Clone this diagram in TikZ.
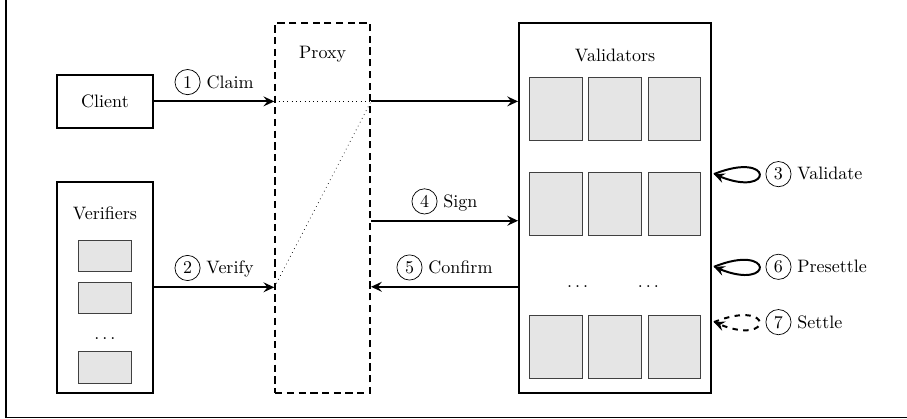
\documentclass[tikz,border=0pt]{standalone}
\usetikzlibrary{arrows.meta}

\newcommand{\circnum}[1]{\tikz[baseline=(num.base)]\node[draw, solid, thin, circle, inner sep=0pt, minimum size=14pt] (num) {#1};}

\tikzset{
	>={Stealth[length=6pt, width=5.5pt, inset=2.2pt]},
	box/.style={draw, line width=1.1pt, minimum width=1.87cm, inner sep=0pt},
	member/.style={draw=black!75, fill=black!10, line width=0.55pt, minimum width=1.03cm, minimum height=0.62cm, inner sep=0pt},
	flow/.style={->, line width=1.1pt},
	frame/.style={line width=0.9pt},
}

\begin{document}
\begin{tikzpicture}
		\useasboundingbox (0,0) rectangle (17.71,-8.18);
		\draw[frame] (0.12,0) -- (0.12,-8.15) -- (17.71,-8.15);

		\node[box, minimum height=1.03cm] (client) at (2.05,-1.98) {Client};
		\node[box, minimum height=4.12cm] (verifiers) at (2.05,-5.61) {};
		\node (verlabel) at (2.05,-4.16) {Verifiers};
		\node[member] (ver1) at (2.05,-5.00) {};
		\node[member] (ver2) at (2.05,-5.82) {};
		\node (verdots) at (2.05,-6.62) {$\ldots$};
		\node[member] (ver3) at (2.05,-7.17) {};

		\node[box, dashed, dash pattern=on 4pt off 2.5pt, minimum width=1.85cm, minimum height=7.22cm] (proxy) at (6.30,-4.06) {};
		\node (proxylabel) at (6.30,-1.05) {Proxy};

		\node[box, minimum width=3.75cm, minimum height=7.22cm] (validators) at (12.01,-4.06) {};
		\node (vallabel) at (12.01,-1.08) {Validators};
		\foreach \row/\y in {1/-2.12, 2/-3.98, 3/-6.77}
			\foreach \col/\x in {1/10.85, 2/12.01, 3/13.17}
				\node[member, minimum height=1.23cm] (val\row\col) at (\x,\y) {};
		\node (valdots1) at (11.28,-5.60) {$\ldots$};
		\node (valdots2) at (12.66,-5.60) {$\ldots$};

		\coordinate (pin1) at (proxy.west |- client);
		\coordinate (pout1) at (proxy.east |- client);
		\coordinate (pin2) at (proxy.west |- verifiers);
		\coordinate (pout2) at (proxy.east |- 0,-4.31);
		\coordinate (pret) at (proxy.east |- 0,-5.60);
		\coordinate (vin1) at (validators.west |- client);
		\coordinate (vin2) at (validators.west |- pout2);
		\coordinate (vout) at (validators.west |- pret);
		\coordinate (loopval) at (13.94,-3.40);
		\coordinate (looppre) at (13.94,-5.21);
		\coordinate (loopset) at (13.94,-6.29);

		\draw[flow] (client) -- node[above] {\circnum{1} Claim} (pin1);
		\draw[flow] (verifiers) -- node[above] {\circnum{2} Verify} (pin2);
		\draw[dotted] (pin1) -- (pout1);
		\draw[dotted] (pin2) -- (pout1);
		\draw[flow] (pout1) -- (vin1);
		\draw[flow] (pout2) -- node[above] {\circnum{4} Sign} (vin2);
		\draw[flow] (vout) -- node[above] {\circnum{5} Confirm} (pret);

		\draw[flow] (loopval) to[out=22, in=-22, min distance=1.27cm] node[right] {\circnum{3} Validate} (loopval);
		\draw[flow] (looppre) to[out=22, in=-22, min distance=1.27cm] node[right] {\circnum{6} Presettle} (looppre);
		\draw[flow, dashed] (loopset) to[out=22, in=-22, min distance=1.27cm] node[right] {\circnum{7} Settle} (loopset);
	\end{tikzpicture}
\end{document}
